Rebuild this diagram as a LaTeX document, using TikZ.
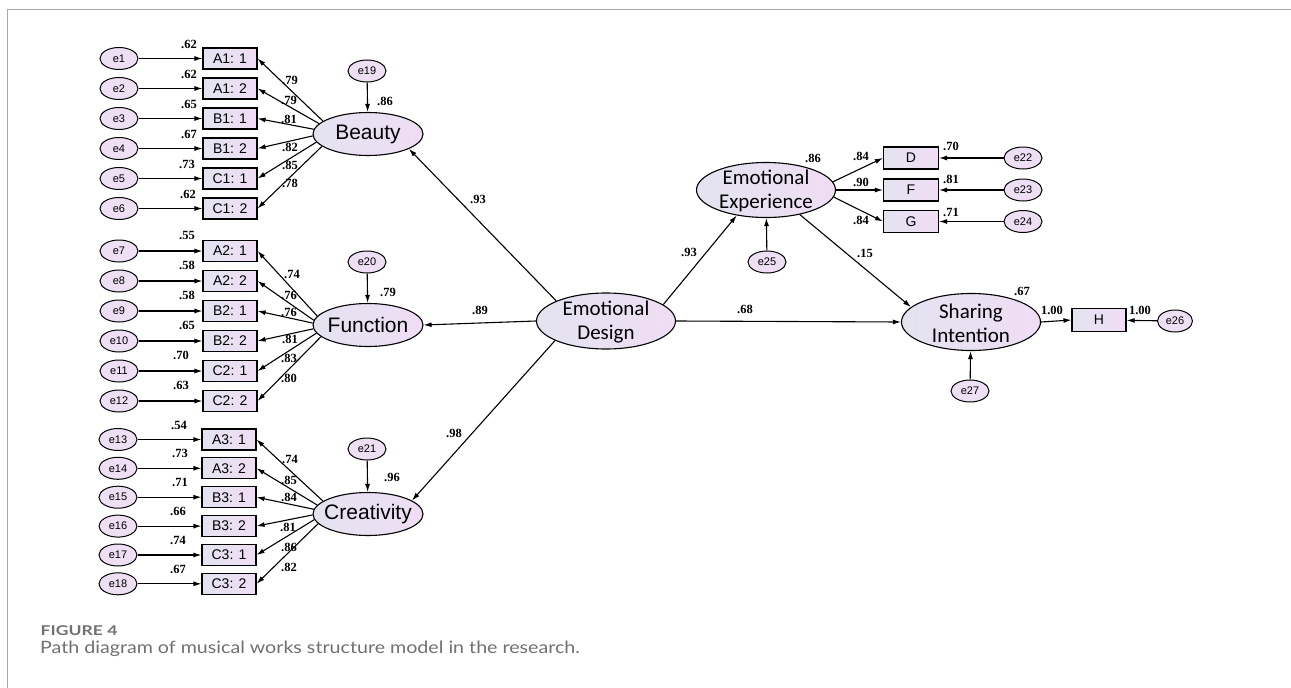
\documentclass[tikz,border=0pt]{standalone}
\usepackage{fontspec}
\usepackage{graphicx}
\usetikzlibrary{arrows.meta,shapes.geometric}
\newfontfamily\arialf{Liberation Sans}
\newfontfamily\timesf{Liberation Serif}
\newfontfamily\calf{Carlito}
\newfontfamily\capf{Lato}
\definecolor{latL}{HTML}{E3E3F0}
\definecolor{latR}{HTML}{F0DDF5}
\definecolor{errC}{HTML}{EEDFF4}
\definecolor{frameC}{HTML}{A8A8A8}
\definecolor{capC}{HTML}{707070}
\tikzset{
  lat/.style={ellipse,draw,line width=1.1pt,left color=latL,right color=latR,minimum width=110pt,minimum height=43pt,inner sep=0pt},
  big/.style={ellipse,draw,line width=1.1pt,left color=latL,right color=latR,minimum width=139pt,minimum height=56pt,inner sep=0pt},
  lattxt/.style={font=\arialf\fontsize{21}{24}\selectfont,inner sep=0pt},
  bigtxt/.style={font=\calf\fontsize{21}{24}\selectfont,align=center,inner sep=0pt},
  err/.style={ellipse,draw,line width=1pt,fill=errC,minimum width=38pt,minimum height=22pt,inner sep=0pt,font=\arialf\fontsize{11}{12}\selectfont},
  obs/.style={rectangle,draw,line width=1.1pt,left color=latL,right color=latR,minimum width=54pt,minimum height=21pt,inner sep=0pt,font=\arialf\fontsize{14}{16}\selectfont},
  num/.style={font=\timesf\bfseries\fontsize{12.5}{13}\selectfont,inner sep=0pt},
  arr/.style={line width=1.1pt,-{Latex[length=8pt,width=5pt]}}
}
\begin{document}
\begin{tikzpicture}[x=1pt,y=-1pt]
\useasboundingbox (0,0) rectangle (1291,688);
\draw[frameC,line width=1pt] (7,688) -- (7,9) -- (1291,9);

% ---------- Beauty ----------
\node[lat] (B) at (368,134) {};
\node[lattxt] (Bt) at (B) {Beauty};
\node[err] (e19) at (367,71) {e19};
\draw[arr] (e19) -- (B);
\node[num] at (385,101) {.86};
\foreach \i/\t/\y/\ev/\ex/\ld/\lx/\ly/\ang in {
 1/{A1: 1}/58.5/.62/189/.79/290/80/164,
 2/{A1: 2}/88.5/.62/189/.79/289/100/168,
 3/{B1: 1}/118.5/.65/189/.81/289/119/175,
 4/{B1: 2}/148.5/.67/189/.82/290/147/182,
 5/{C1: 1}/178.5/.73/187/.85/290/165/189,
 6/{C1: 2}/208.5/.62/188/.78/290/183/195}{
 \node[err] (e\i) at (119,\y) {e\i};
 \node[obs] (o\i) at (230,\y) {\t};
 \draw[arr] (e\i) -- (o\i);
 \node[num] at (\ex,\y-14) {\ev};
 \draw[arr] (B.\ang) -- (o\i.east);
 \node[num] at (\lx,\ly) {\ld};
}

% ---------- Function ----------
\node[lat] (Fn) at (368,325) {};
\node[lattxt] (Fnt) at (Fn) {Function};
\node[err] (e20) at (367,262) {e20};
\draw[arr] (e20) -- (Fn);
\node[num] at (388,292) {.79};
\foreach \i/\t/\y/\ev/\ex/\ld/\lx/\ly/\ang in {
 7/{A2: 1}/251/.55/187/.74/292/274/170,
 8/{A2: 2}/281/.58/187/.76/289/295/175,
 9/{B2: 1}/311/.58/187/.76/289/312/178,
 10/{B2: 2}/341/.65/187/.81/290/339/184,
 11/{C2: 1}/371/.70/181/.83/289/358/189,
 12/{C2: 2}/401/.63/181/.80/289/378/194}{
 \node[err] (e\i) at (119,\y) {e\i};
 \node[obs] (o\i) at (230,\y) {\t};
 \draw[arr] (e\i) -- (o\i);
 \node[num] at (\ex,\y-16) {\ev};
 \draw[arr] (Fn.\ang) -- (o\i.east);
 \node[num] at (\lx,\ly) {\ld};
}

% ---------- Creativity ----------
\node[lat] (C) at (368,514) {};
\node[lattxt] (Ct) at (C) {Creativity};
\node[err] (e21) at (367,449) {e21};
\draw[arr] (e21) -- (C);
\node[num] at (392,477) {.96};
\foreach \i/\t/\y/\ev/\ex/\ld/\lx/\ly/\ang in {
 13/{A3: 1}/439.5/.54/179/.74/290/459/164,
 14/{A3: 2}/468.3/.73/180/.85/289/480/170,
 15/{B3: 1}/497.2/.71/180/.84/289/497/175,
 16/{B3: 2}/526.1/.66/178/.81/288/527/181,
 17/{C3: 1}/555/.74/178/.86/289/547/186,
 18/{C3: 2}/583.8/.67/178/.82/289/567/191}{
 \node[err] (e\i) at (118,\y) {e\i};
 \node[obs] (o\i) at (229,\y) {\t};
 \draw[arr] (e\i) -- (o\i);
 \node[num] at (\ex,\y-14.5) {\ev};
 \draw[arr] (C.\ang) -- (o\i.east);
 \node[num] at (\lx,\ly) {\ld};
}

% ---------- Emotional Design ----------
\node[big] (ED) at (606,321) {};
\node[bigtxt] (EDt) at (606,322) {Emotional\\Design};
\draw[arr] (ED.158) -- (B.-20);
\node[num] at (478,199) {.93};
\draw[arr] (ED.west) -- (Fn.east);
\node[num] at (480,310) {.89};
\draw[arr] (ED.201) -- (C.17);
\node[num] at (454,433) {.98};

% ---------- Emotional Experience ----------
\node[big,minimum height=55pt] (EE) at (766,190) {};
\node[bigtxt] (EEt) at (766,191) {Emotional\\Experience};
\node[num] at (813,158) {.86};
\draw[arr] (ED.16) -- (EE.221);
\node[num] at (689,252) {.93};
\node[err] (e25) at (767,262) {e25};
\draw[arr] (e25) -- (EE);
\node[obs,minimum width=55pt,minimum height=22pt] (D) at (911,158) {D};
\node[obs,minimum width=55pt,minimum height=22pt] (F) at (911,190) {F};
\node[obs,minimum width=55pt,minimum height=22pt] (G) at (911,221.5) {G};
\draw[arr] (EE.7) -- (D.west);
\draw[arr] (EE.east) -- (F.west);
\draw[arr] (EE.-6) -- (G.west);
\node[num] at (861,156) {.84};
\node[num] at (861,182) {.90};
\node[num] at (861,220) {.84};
\node[err] (e22) at (1023,158) {e22};
\node[err] (e23) at (1023,190) {e23};
\node[err] (e24) at (1023,221.5) {e24};
\draw[arr] (e22) -- (D);
\draw[arr] (e23) -- (F);
\draw[arr] (e24) -- (G);
\node[num] at (951,146) {.70};
\node[num] at (951,179) {.81};
\node[num] at (951,212) {.71};

% ---------- Sharing Intention ----------
\node[big,minimum height=57pt] (SI) at (971,322) {};
\node[bigtxt] (SIt) at (971,323) {Sharing\\Intention};
\node[num] at (1022,291) {.67};
\draw[arr] (EE.-36) -- (SI.166);
\node[num] at (865,253) {.15};
\draw[arr] (ED.east) -- (SI.west);
\node[num] at (745,309) {.68};
\node[err] (e27) at (970,391) {e27};
\draw[arr] (e27) -- (SI);
\node[obs,minimum height=23pt] (H) at (1099,320) {H};
\draw[arr] (SI.east) -- (H.west);
\node[num] at (1052,310) {1.00};
\node[err,minimum width=35pt] (e26) at (1175,321) {e26};
\draw[arr] (e26) -- (H);
\node[num] at (1140,310) {1.00};

% ---------- caption ----------
\node[anchor=base west,inner sep=0pt,text=capC,font=\capf\bfseries\fontsize{13.5}{15}\selectfont] (cap1) at (40.5,635) {\scalebox{1.3}[1]{FIGURE 4}};
\node[anchor=base west,inner sep=0pt,text=capC,font=\capf\fontsize{17}{20}\selectfont] (cap2) at (40,653.5) {\scalebox{1.155}[1]{Path diagram of musical works structure model in the research.}};
\end{tikzpicture}
\end{document}
